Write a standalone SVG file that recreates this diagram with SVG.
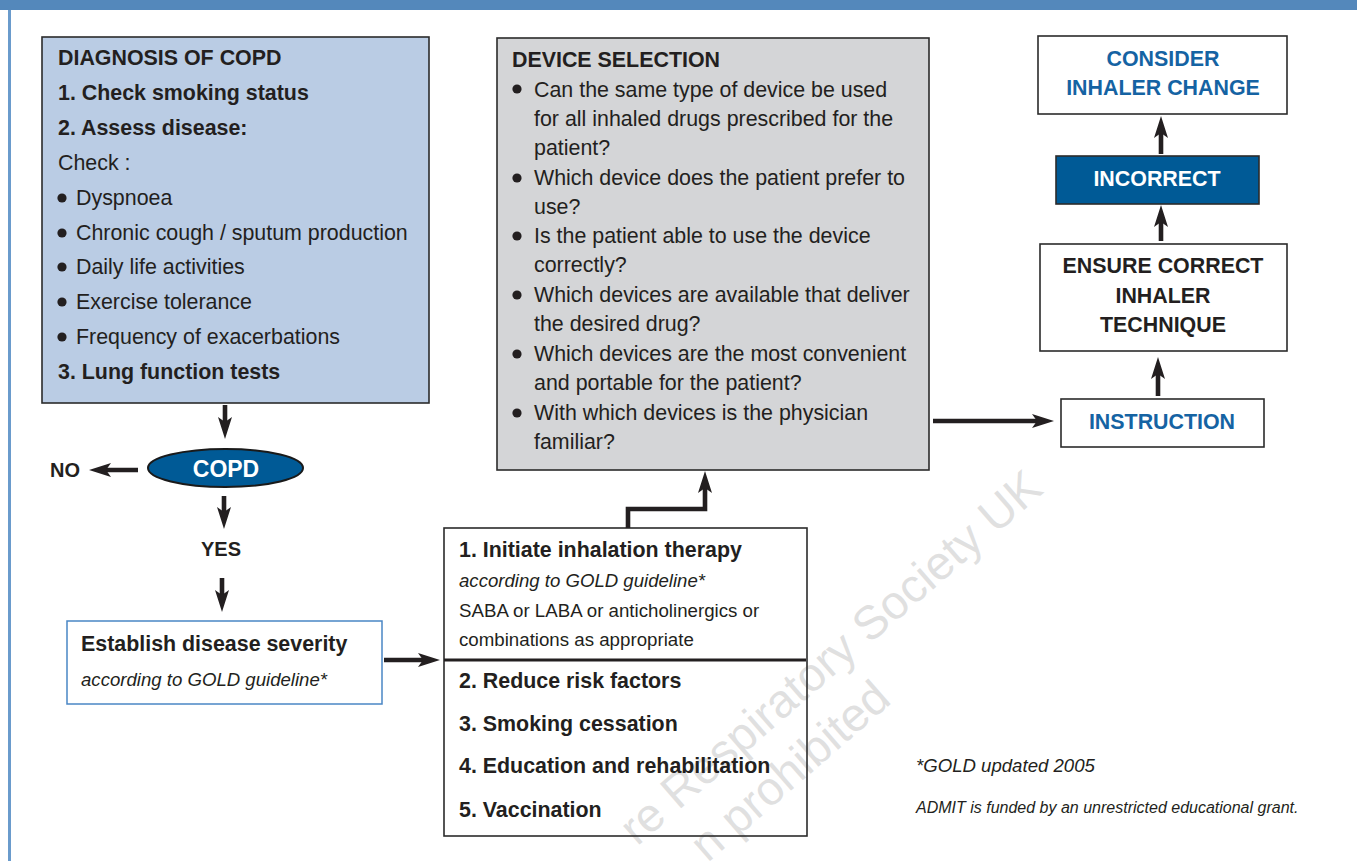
<svg xmlns="http://www.w3.org/2000/svg" width="1357" height="861" viewBox="0 0 1357 861">
<defs>
<style>
.t{font-family:"Liberation Sans",Arial,Helvetica,sans-serif;font-size:21.4px;fill:#231f20}
.b{font-weight:bold}
.i{font-style:italic;font-size:18.6px}
.s{font-size:18.7px}
.c{text-anchor:middle}
.blue{fill:#1563a3}
.w{fill:#ffffff}
.box{stroke:#2b2b2b;stroke-width:1.6}
.conn{stroke:#231f20;stroke-width:4.6;fill:none;stroke-linejoin:miter}
.wm{font-family:"Liberation Sans",Arial,Helvetica,sans-serif;font-size:47px;fill:#d6d6d6;fill-opacity:0.75}
</style>
<marker id="ah" viewBox="0 0 22 14" refX="10" refY="7" markerWidth="22" markerHeight="14" markerUnits="userSpaceOnUse" orient="auto">
<path d="M0,0 L22,7 L0,14 L5,7 Z" fill="#231f20"/>
</marker>
<circle id="bul" r="4.6" fill="#231f20"/>
</defs>
<rect width="1357" height="861" fill="#ffffff"/>
<rect x="0" y="0" width="1357" height="10" fill="#5488bb"/>
<rect x="8" y="10" width="3" height="851" fill="#6a9bcc"/>

<g id="diagnosis">
<rect class="box" x="42" y="37" width="387" height="366" fill="#bacce4"/>
<text class="t b" x="58" y="65">DIAGNOSIS OF COPD</text>
<text class="t b" x="58" y="100">1. Check smoking status</text>
<text class="t b" x="58" y="135">2. Assess disease:</text>
<text class="t" x="58" y="170">Check :</text>
<use href="#bul" x="62" y="198"/><text class="t" x="76" y="205">Dyspnoea</text>
<use href="#bul" x="62" y="233"/><text class="t" x="76" y="240">Chronic cough / sputum production</text>
<use href="#bul" x="62" y="267"/><text class="t" x="76" y="274">Daily life activities</text>
<use href="#bul" x="62" y="302"/><text class="t" x="76" y="309">Exercise tolerance</text>
<use href="#bul" x="62" y="337"/><text class="t" x="76" y="344">Frequency of exacerbations</text>
<text class="t b" x="58" y="379">3. Lung function tests</text>
</g>

<g id="copd">
<ellipse cx="225.5" cy="468" rx="77.5" ry="19" fill="#005a96" stroke="#1a1a1a" stroke-width="2"/>
<text class="t b c w" x="226" y="477" style="font-size:23px">COPD</text>
</g>

<g id="no"><text class="t b" x="50" y="477" style="font-size:20px">NO</text></g>
<g id="yes"><text class="t b c" x="221" y="556" style="font-size:20px">YES</text></g>

<g id="severity">
<rect x="67" y="621" width="315" height="83" fill="#ffffff" stroke="#4a86c5" stroke-width="1.5"/>
<text class="t b" x="81" y="651">Establish disease severity</text>
<text class="t i" x="81" y="686">according to GOLD guideline*</text>
</g>

<g id="watermark">
<text class="wm" x="1045" y="492" text-anchor="end" transform="rotate(-41 1045 492)">re Respiratory Society UK</text>
<text class="wm" x="893" y="702" text-anchor="end" transform="rotate(-41 893 702)">n prohibited</text>
</g>

<g id="therapy">
<rect class="box" x="444" y="528" width="363" height="308" fill="none"/>
<line x1="444" y1="660" x2="806" y2="660" stroke="#231f20" stroke-width="3"/>
<text class="t b" x="459" y="557">1. Initiate inhalation therapy</text>
<text class="t i" x="459" y="587">according to GOLD guideline*</text>
<text class="t s" x="459" y="617">SABA or LABA or anticholinergics or</text>
<text class="t s" x="459" y="646">combinations as appropriate</text>
<text class="t b" x="459" y="688">2. Reduce risk factors</text>
<text class="t b" x="459" y="731">3. Smoking cessation</text>
<text class="t b" x="459" y="773">4. Education and rehabilitation</text>
<text class="t b" x="459" y="817">5. Vaccination</text>
</g>

<g id="device">
<rect class="box" x="497" y="38" width="432" height="432" fill="#d4d5d7"/>
<text class="t b" x="512" y="67">DEVICE SELECTION</text>
<use href="#bul" x="517" y="89"/><text class="t" x="534" y="97">Can the same type of device be used</text>
<text class="t" x="534" y="126">for all inhaled drugs prescribed for the</text>
<text class="t" x="534" y="155">patient?</text>
<use href="#bul" x="517" y="178"/><text class="t" x="534" y="185">Which device does the patient prefer to</text>
<text class="t" x="534" y="214">use?</text>
<use href="#bul" x="517" y="236"/><text class="t" x="534" y="243">Is the patient able to use the device</text>
<text class="t" x="534" y="272">correctly?</text>
<use href="#bul" x="517" y="295"/><text class="t" x="534" y="302">Which devices are available that deliver</text>
<text class="t" x="534" y="331">the desired drug?</text>
<use href="#bul" x="517" y="354"/><text class="t" x="534" y="361">Which devices are the most convenient</text>
<text class="t" x="534" y="390">and portable for the patient?</text>
<use href="#bul" x="517" y="413"/><text class="t" x="534" y="420">With which devices is the physician</text>
<text class="t" x="534" y="449">familiar?</text>
</g>

<g id="consider">
<rect class="box" x="1038" y="36" width="249" height="78" fill="#ffffff"/>
<text class="t b c blue" x="1163" y="66">CONSIDER</text>
<text class="t b c blue" x="1163" y="95">INHALER CHANGE</text>
</g>

<g id="incorrect">
<rect class="box" x="1056" y="156" width="203" height="48" fill="#005a96"/>
<text class="t b c w" x="1157" y="186">INCORRECT</text>
</g>

<g id="ensure">
<rect class="box" x="1040" y="244" width="247" height="107" fill="#ffffff"/>
<text class="t b c" x="1163" y="273">ENSURE CORRECT</text>
<text class="t b c" x="1163" y="303">INHALER</text>
<text class="t b c" x="1163" y="332">TECHNIQUE</text>
</g>

<g id="instruction">
<rect class="box" x="1061" y="399" width="203" height="48" fill="#ffffff"/>
<text class="t b c blue" x="1162" y="429">INSTRUCTION</text>
</g>

<g id="notes">
<text class="t i" x="916" y="772">*GOLD updated 2005</text>
<text class="t i" x="916" y="813" style="font-size:16px">ADMIT is funded by an unrestricted educational grant.</text>
</g>

<g id="connectors">
<path class="conn" d="M225,405 V427" marker-end="url(#ah)"/>
<path class="conn" d="M138,470 H101" marker-end="url(#ah)"/>
<path class="conn" d="M224,496 V517" marker-end="url(#ah)"/>
<path class="conn" d="M222,578 V600" marker-end="url(#ah)"/>
<path class="conn" d="M384,660 H428" marker-end="url(#ah)"/>
<path class="conn" d="M628,528 V509 H705 V483" marker-end="url(#ah)"/>
<path class="conn" d="M933,421 H1042" marker-end="url(#ah)"/>
<path class="conn" d="M1158,396 V369" marker-end="url(#ah)"/>
<path class="conn" d="M1161,241 V217" marker-end="url(#ah)"/>
<path class="conn" d="M1161,154 V128" marker-end="url(#ah)"/>
</g>
</svg>
